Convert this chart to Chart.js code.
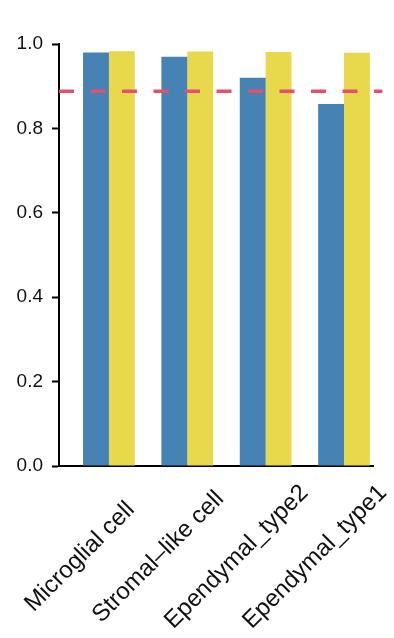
<!DOCTYPE html>
<html>
<head>
<meta charset="utf-8">
<script src="https://cdn.jsdelivr.net/npm/chart.js@4"></script>
<style>
  body { margin: 0; background: #fff; }
</style>
</head>
<body>
<canvas id="chart1" width="394" height="638"></canvas>
<script>
// values
let categories = ['Microglial cell', 'Stromal\u2013like cell', 'Ependymal_type2', 'Ependymal_type1']
let blueValues = [0.980, 0.970, 0.920, 0.858]
let yellowValues = [0.983, 0.982, 0.981, 0.979]
let cutoff = 0.888
let yTicks = [0, 0.2, 0.4, 0.6, 0.8, 1.0]

let ctx = document.getElementById('chart1').getContext('2d')

let xMin = -0.637
let xMax = 3.37

// x labels are centred on their anchor (like R's srt=45 text), chart.js only right-aligns rotated ticks
let centredXLabels = {
    id: 'centredXLabels',
    afterDraw(chart) {
        let sx = chart.scales.x
        let c = chart.ctx
        c.save()
        c.font = '24px "Liberation Sans"'
        c.fillStyle = '#111'
        c.textAlign = 'center'
        c.textBaseline = 'middle'
        categories.forEach((name, i) => {
            c.save()
            c.translate(sx.getPixelForValue(i) - 29, sx.top + 91)
            c.rotate(-Math.PI / 4)
            c.fillText(name, 0, 0)
            c.restore()
        })
        c.restore()
    }
}

let perfChart = new Chart(ctx, {
    type: 'bar',
    data: {
        datasets: [{
            type: 'line',
            data: [{x: xMin, y: cutoff}, {x: xMax + 0.12, y: cutoff}],
            borderColor: '#E5506F',
            borderWidth: 3.5,
            borderDash: [15, 16.5],
            pointRadius: 0,
            clip: false,
            order: 0,
        }, {
            data: blueValues.map((v, i) => ({x: i, y: v})),
            backgroundColor: '#4682B4',
            borderWidth: 0,
            order: 1,
        }, {
            data: yellowValues.map((v, i) => ({x: i, y: v})),
            backgroundColor: '#E8D84B',
            borderWidth: 0,
            order: 1,
        }]
    },
    plugins: [centredXLabels],
    options: {
        responsive: false,
        animation: false,
        categoryPercentage: 0.66,
        barPercentage: 1.0,
        layout: { padding: { top: 44, right: 21, bottom: 0, left: 0 } },
        plugins: {
            legend: { display: false },
            tooltip: { enabled: false },
        },
        scales: {
            x: {
                type: 'linear',
                offset: false,
                min: xMin,
                max: xMax,
                grid: { display: false },
                border: { display: true, color: '#000', width: 2 },
                afterBuildTicks: (axis) => {
                    axis.ticks = categories.map((c, i) => ({value: i}))
                },
                afterFit: (axis) => {
                    axis.height = 172
                    axis.paddingLeft = 0
                    axis.paddingRight = 0
                },
                ticks: { display: false },
            },
            y: {
                min: 0,
                max: 1,
                afterBuildTicks: (axis) => {
                    axis.ticks = yTicks.map(v => ({value: v}))
                },
                afterFit: (axis) => {
                    axis.width = 59
                    axis.paddingTop = 0
                    axis.paddingBottom = 0
                },
                grid: {
                    display: true,
                    drawOnChartArea: false,
                    drawTicks: true,
                    tickLength: 7,
                    tickWidth: 2,
                    tickColor: '#000',
                },
                border: { display: true, color: '#000', width: 2 },
                ticks: {
                    padding: 9,
                    color: '#111',
                    font: { family: 'Liberation Sans', size: 19 },
                    callback: (v) => v.toFixed(1),
                },
            },
        },
    },
});
</script>
</body>
</html>
